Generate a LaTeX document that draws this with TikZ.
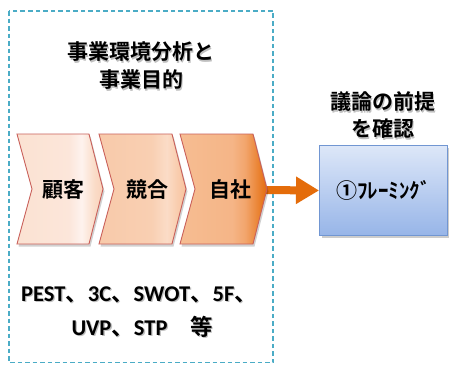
\documentclass[tikz,border=0pt]{standalone}
\usepackage{fontspec}
\setmainfont{Carlito}
\newfontfamily\jp{Noto Sans CJK JP}[BoldFont={Noto Sans CJK JP Bold}]
\usetikzlibrary{arrows.meta}
\definecolor{dashc}{HTML}{4BACC6}
\definecolor{chevborder}{HTML}{C9605A}
\definecolor{arrowc}{HTML}{E46C0A}
\definecolor{boxborder}{HTML}{7196D2}
\definecolor{boxtop}{HTML}{DDE7F8}
\definecolor{boxbot}{HTML}{97B5E8}
\pgfdeclarehorizontalshading{chevA}{100bp}{color(0bp)=(rgb,255:red,251;green,226;blue,210); color(25bp)=(rgb,255:red,251;green,226;blue,210); color(55bp)=(rgb,255:red,252;green,230;blue,218); color(62.5bp)=(rgb,255:red,254;green,243;blue,238); color(70bp)=(rgb,255:red,250;green,220;blue,200); color(75bp)=(rgb,255:red,249;green,211;blue,186); color(100bp)=(rgb,255:red,249;green,211;blue,186)}
\pgfdeclarehorizontalshading{chevB}{100bp}{color(0bp)=(rgb,255:red,248;green,202;blue,170); color(25bp)=(rgb,255:red,248;green,202;blue,170); color(55bp)=(rgb,255:red,249;green,207;blue,178); color(64bp)=(rgb,255:red,251;green,220;blue,199); color(70bp)=(rgb,255:red,249;green,205;blue,174); color(75bp)=(rgb,255:red,247;green,194;blue,157); color(100bp)=(rgb,255:red,247;green,194;blue,157)}
\pgfdeclarehorizontalshading{chevC}{100bp}{color(0bp)=(rgb,255:red,246;green,189;blue,146); color(25bp)=(rgb,255:red,246;green,189;blue,146); color(55bp)=(rgb,255:red,245;green,181;blue,135); color(62.5bp)=(rgb,255:red,242;green,165;blue,108); color(70bp)=(rgb,255:red,234;green,131;blue,50); color(75bp)=(rgb,255:red,226;green,106;blue,12); color(100bp)=(rgb,255:red,226;green,106;blue,12)}
\tikzset{
  chev/.style={draw=chevborder, line width=0.9pt, line join=miter},
  chevshadow/.style={fill=black, opacity=0.18},
  jtext/.style={font=\jp\bfseries\fontsize{21}{25}\selectfont, text=black, inner sep=0pt, align=center},
  ltext/.style={font=\bfseries\fontsize{22.5}{27}\selectfont, text=black, inner sep=0pt},
  tshadow/.style={text=black!45, opacity=0.55},
}
\newcommand{\jj}[1]{{\jp\bfseries #1}}
\begin{document}
\begin{tikzpicture}[x=1pt,y=-1pt]
\useasboundingbox (0,0) rectangle (449,364);
\fill[white] (0,0) rectangle (449,364);
% dashed frame
\draw[dashc, line width=1.4pt, dash pattern=on 4.5pt off 3pt] (9,11) rectangle (273,362.5);
% arrow (behind chevrons)
\coordinate (c3tip) at (255,190);
% blue box
\fill[black, opacity=0.2] (322,148) rectangle (450,238);
\node[draw=boxborder, line width=0.9pt, top color=boxtop, bottom color=boxbot, minimum width=128pt, minimum height=90pt, inner sep=0pt, anchor=north west] (frame) at (319,145) {};
\draw[arrowc, line width=8pt, -{Triangle[length=23pt,width=26pt]}] (c3tip) -- (frame.west);
% chevron shadows
\foreach \L/\R in {17/89, 99/172, 180/253}{
  \fill[chevshadow] (\L+1.5,136.5) -- (\R+1.5,136.5) -- (\R+15.5,191.5) -- (\R+1.5,246.5) -- (\L+1.5,246.5) -- (\L+16.5,191.5) -- cycle;
}
% chevrons
\path[chev, shading=chevA] (17,134) -- (89,134) -- (103,189) -- (89,244) -- (17,244) -- (32,189) -- cycle;
\path[chev, shading=chevB] (99,134) -- (172,134) -- (186,189) -- (172,244) -- (99,244) -- (114,189) -- cycle;
\path[chev, shading=chevC] (180,134) -- (253,134) -- (267,189) -- (253,244) -- (180,244) -- (195,189) -- cycle;
% text shadows
\begin{scope}[tshadow, shift={(1.3,1.3)}]
\node[jtext, tshadow] (s1) at (141,52) {事業環境分析と};
\node[jtext, tshadow] (s2) at (141,80) {事業目的};
\node[jtext, tshadow] (s3) at (383,102) {議論の前提};
\node[jtext, tshadow] (s4) at (383,129) {を確認};
\node[ltext, tshadow] (s5) at (139,295) {PEST\jj{、}3C\jj{、}SWOT\jj{、}5F\jj{、}};
\node[ltext, tshadow] (s6) at (142,327) {UVP\jj{、}STP\jj{　等}};
\end{scope}
% texts
\node[jtext] (title1) at (141,52) {事業環境分析と};
\node[jtext] (title2) at (141,80) {事業目的};
\node[jtext] (c1) at (63,190) {顧客};
\node[jtext] (c2) at (147,190) {競合};
\node[jtext] (c3) at (230,190) {自社};
\node[jtext] (rt1) at (383,102) {議論の前提};
\node[jtext] (rt2) at (383,129) {を確認};
\node[ltext] (tools1) at (139,295) {PEST\jj{、}3C\jj{、}SWOT\jj{、}5F\jj{、}};
\node[ltext] (tools2) at (142,327) {UVP\jj{、}STP\jj{　等}};
\node[jtext] (ftext) at (frame.center) {①ﾌﾚｰﾐﾝｸﾞ};
\end{tikzpicture}
\end{document}
